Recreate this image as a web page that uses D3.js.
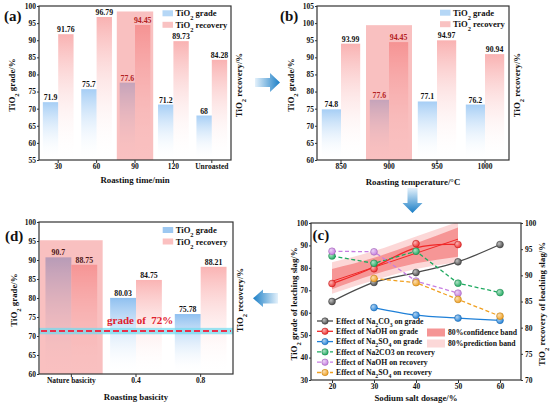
<!DOCTYPE html>
<meta charset="utf-8">
<style>
body { margin: 0; background: #fff; }
svg { font-family: "Liberation Serif", "Times New Roman", serif; font-weight: bold; }
.frame { fill: none; stroke: #333; stroke-width: 1.2px; }
.axis text { font-size: 7.5px; fill: #111; font-family: "Liberation Serif", serif; font-weight: bold; }
.axis line { stroke: #333; }
.title { font-size: 8.8px; fill: #111; }
.tag { font-size: 15px; fill: #111; }
.lab { font-size: 7.8px; text-anchor: middle; }
.legend text { font-size: 8.6px; fill: #111; }
.legc text { font-size: 7.7px; fill: #111; }
</style>
<body>
<script src="https://d3js.org/d3.v7.min.js"></script>
<script>

// (a) roasting time
var timeCats = ["30", "60", "90", "120", "Unroasted"],
    timeGrade = [71.9, 75.7, 77.6, 71.2, 68],
    timeRecovery = [91.76, 96.79, 94.45, 89.73, 84.28];

// (b) roasting temperature
var tempCats = ["850", "900", "950", "1000"],
    tempGrade = [74.8, 77.6, 77.1, 76.2],
    tempRecovery = [93.99, 94.45, 94.97, 90.94];

// (d) roasting basicity
var basCats = ["Nature basicity", "0.4", "0.8"],
    basGrade = [90.7, 80.03, 75.78],
    basRecovery = [88.75, 84.75, 88.21],
    gradeLine = 71.3;

// (c) sodium salt dosage
var dosage = [20, 30, 40, 50, 60],
    na2co3Grade = [65.0, 73.5, 77.9, 82.7, 90.4],
    naohGrade = [73.0, 79.6, 90.8, 90.4],
    na2so4Grade = [62.3, 58.9, 57.6, 56.6],
    na2co3Rec = [93.7, 92.3, 94.6, 88.5, 86.7],
    naohRec = [94.6, 94.5, 88.9, 86.6],
    na2so4Rec = [89.4, 88.6, 85.4, 82.2];

// NaOH grade fit and 80% bands
var bandDose = [20, 30, 40, 50],
    predHi = [82.5, 87.5, 94, 100.5],
    predLo = [68.5, 74.5, 79.5, 82.5],
    confHi = [79.5, 84.5, 91, 98],
    confLo = [70.5, 77, 82, 85],
    fitDose = [20, 50],
    fitNaoh = [74, 92.8];

var svg = d3.select("body").append("svg")
    .attr("width", 550)
    .attr("height", 408);

var defs = svg.append("defs");

function vGrad(id, color) {
  var g = defs.append("linearGradient").attr("id", id)
      .attr("x1", 0).attr("y1", 0).attr("x2", 0).attr("y2", 1);
  g.append("stop").attr("offset", "0%").attr("stop-color", color);
  g.append("stop").attr("offset", "100%").attr("stop-color", "#fff").attr("stop-opacity", 0);
}
vGrad("blue", "#a6cef5");
vGrad("pink", "#f9b2b2");
vGrad("blue2", "#8fc0f0");
vGrad("pink2", "#fab4b4");

function ball(id, c) {
  var g = defs.append("radialGradient").attr("id", id)
      .attr("cx", "35%").attr("cy", "35%").attr("r", "70%");
  g.append("stop").attr("offset", "0%").attr("stop-color", d3.interpolateRgb(c, "#fff")(0.65));
  g.append("stop").attr("offset", "100%").attr("stop-color", c);
}

// text with _x subscripts
function rich(sel, str) {
  str.split(/(_.)/).forEach(function(p) {
    if (!p) return;
    if (p[0] === "_") sel.append("tspan").attr("baseline-shift", "sub").attr("font-size", "75%").text(p[1]);
    else sel.append("tspan").text(p);
  });
  return sel;
}

function vTitle(x, y, str) {
  rich(svg.append("text").attr("class", "title")
      .attr("text-anchor", "middle")
      .attr("transform", "translate(" + x + "," + y + ")rotate(-90)"), str);
}

function barPanel(o) {
  var l = o.box[0], t = o.box[1], r = o.box[2], b = o.box[3];
  var g = svg.append("g");
  var x = d3.scaleBand().domain(o.cats).range([l, r]);
  var y = d3.scaleLinear().domain(o.yDomain).range([b, t]);
  var bw = x.bandwidth() * 0.4;
  var cx = function(i) { return x(o.cats[i]) + x.bandwidth() / 2; };

  g.selectAll(".gb").data(o.grade).join("rect")
      .attr("x", function(d, i) { return cx(i) - bw; })
      .attr("y", y).attr("width", bw)
      .attr("height", function(d) { return b - y(d); })
      .attr("fill", "url(#" + o.fills[0] + ")");
  g.selectAll(".rb").data(o.recovery).join("rect")
      .attr("x", function(d, i) { return cx(i); })
      .attr("y", y).attr("width", bw)
      .attr("height", function(d) { return b - y(d); })
      .attr("fill", "url(#" + o.fills[1] + ")");

  // highlighted condition
  g.append("rect")
      .attr("x", x(o.cats[o.hi]) + 1)
      .attr("width", x.bandwidth() - 2)
      .attr("y", y(o.hiTop))
      .attr("height", b - y(o.hiTop))
      .attr("fill", "#f06a6a").attr("fill-opacity", 0.42);

  if (o.extra) o.extra(g, x, y);

  [o.grade, o.recovery].forEach(function(vals, k) {
    g.selectAll(null).data(vals).join("text")
        .attr("class", "lab")
        .attr("x", function(d, i) { return cx(i) + (k ? bw / 2 : -bw / 2); })
        .attr("y", function(d) { return y(d) - 2; })
        .attr("fill", function(d, i) { return i === o.hi ? o.hiColor : "#111"; })
        .text(function(d) { return d; });
  });

  g.append("g").attr("class", "axis")
      .attr("transform", "translate(" + l + ",0)")
      .call(d3.axisLeft(y).tickValues(d3.range(o.yDomain[0], o.yDomain[1] + 0.1, 5)).tickSize(2).tickPadding(1))
      .call(function(a) { a.select(".domain").remove(); });
  g.append("g").attr("class", "axis")
      .attr("transform", "translate(0," + b + ")")
      .call(d3.axisBottom(x).tickSize(3).tickPadding(1))
      .call(function(a) { a.select(".domain").remove(); });

  g.append("rect").attr("class", "frame")
      .attr("x", l).attr("y", t).attr("width", r - l).attr("height", b - t);

  var lg = g.append("g").attr("class", "legend");
  ["TiO_2 grade", "TiO_2 recovery"].forEach(function(s, k) {
    var yy = o.legend[1] + k * 11.5;
    lg.append("rect").attr("x", o.legend[0]).attr("y", yy - 3).attr("width", 10.5).attr("height", 6)
        .attr("fill", o.swatch[k]);
    rich(lg.append("text").attr("x", o.legend[0] + 13).attr("y", yy + 3), s);
  });

  svg.append("text").attr("class", "title").attr("text-anchor", "middle")
      .attr("x", (l + r) / 2).attr("y", o.xTitleY).text(o.xTitle);
  vTitle(o.yTitleX[0], (t + b) / 2 + 2, "TiO_2 grade/%");
  vTitle(o.yTitleX[1], (t + b) / 2 + 2, "TiO_2 recovery/%");
  svg.append("text").attr("class", "tag").attr("x", o.tag[0]).attr("y", o.tag[1]).text(o.tag[2]);
}

barPanel({
  cats: timeCats, grade: timeGrade, recovery: timeRecovery,
  box: [39, 6, 231, 160], yDomain: [55, 100],
  hi: 2, hiTop: 98.4, hiColor: "#b32020",
  fills: ["blue", "pink"], swatch: ["#b5d7f6", "#f9c2c2"],
  legend: [162.5, 13.3],
  xTitle: "Roasting time/min", xTitleY: 183, yTitleX: [15, 242],
  tag: [4, 21, "(a)"]
});

barPanel({
  cats: tempCats, grade: tempGrade, recovery: tempRecovery,
  box: [317, 6, 509, 160], yDomain: [60, 105],
  hi: 1, hiTop: 99.4, hiColor: "#b32020",
  fills: ["blue", "pink"], swatch: ["#b5d7f6", "#f9c2c2"],
  legend: [440, 12.7],
  xTitle: "Roasting temperature/\u00b0C", xTitleY: 185, yTitleX: [294, 520],
  tag: [280, 21, "(b)"]
});

barPanel({
  cats: basCats, grade: basGrade, recovery: basRecovery,
  box: [39, 222, 233, 374], yDomain: [60, 100],
  hi: 0, hiTop: 95.2, hiColor: "#4a1414",
  fills: ["blue2", "pink2"], swatch: ["#9dc8f1", "#fbc0c0"],
  legend: [162.7, 230],
  xTitle: "Roasting basicity", xTitleY: 400, yTitleX: [17, 243],
  tag: [5, 241, "(d)"],
  extra: function(g, x, y) {
    var x0 = x.range()[0], x1 = x.range()[1], yl = y(gradeLine);
    g.append("rect").attr("x", x0).attr("width", x1 - x0)
        .attr("y", yl - 3.2).attr("height", 6.4)
        .attr("fill", "#6fdcf0").attr("fill-opacity", 0.7);
    g.append("line").attr("x1", x0 + 2).attr("x2", x1 - 2).attr("y1", yl).attr("y2", yl)
        .attr("stroke", "#e8304a").attr("stroke-width", 2).attr("stroke-dasharray", "6,3");
    g.append("text").attr("x", 107).attr("y", yl - 7)
        .attr("fill", "#e0202c").attr("font-size", "11px")
        .attr("xml:space", "preserve")
        .text("grade of  72%");
  }
});

// (c) line chart
var cL = 311, cT = 223, cR = 521, cB = 380;
var xc = d3.scaleLinear().domain([15, 65]).range([cL, cR]),
    yL = d3.scaleLinear().domain([30, 100]).range([cB, cT]),
    yR = d3.scaleLinear().domain([70, 100]).range([cB, cT]);

defs.append("clipPath").attr("id", "clipc")
  .append("rect").attr("x", cL).attr("y", cT).attr("width", cR - cL).attr("height", cB - cT);

var gc = svg.append("g");
var plot = gc.append("g").attr("clip-path", "url(#clipc)");

var band = function(hi, lo) {
  return d3.area().x(function(d, i) { return xc(bandDose[i]); })
      .y0(function(d, i) { return yL(lo[i]); })
      .y1(function(d, i) { return yL(hi[i]); })
      .curve(d3.curveMonotoneX)(bandDose);
};
plot.append("path").attr("d", band(predHi, predLo)).attr("fill", "#f9b0b0").attr("fill-opacity", 0.5);
plot.append("path").attr("d", band(confHi, confLo)).attr("fill", "#f06060").attr("fill-opacity", 0.55);
plot.append("path")
    .attr("d", d3.line().x(function(d, i) { return xc(fitDose[i]); }).y(function(d) { return yL(d); })(fitNaoh))
    .attr("stroke", "#f02828").attr("stroke-width", 1).attr("fill", "none");

var series = [
  {name: "Effect of Na_2CO_3 on grade", xs: dosage, ys: na2co3Grade, y: yL, color: "#4a4a4a", dash: null, curve: d3.curveCatmullRom},
  {name: "Effect of NaOH on grade", xs: dosage.slice(0, 4), ys: naohGrade, y: yL, color: "#f02828", dash: null, curve: d3.curveBasis},
  {name: "Effect of Na_2SO_4 on grade", xs: dosage.slice(1), ys: na2so4Grade, y: yL, color: "#1f80d8", dash: null, curve: d3.curveCatmullRom},
  {name: "Effect of Na2CO3 on recovery", xs: dosage, ys: na2co3Rec, y: yR, color: "#1faa60", dash: "4,2.5", curve: d3.curveLinear},
  {name: "Effect of NaOH on recovery", xs: dosage.slice(0, 4), ys: naohRec, y: yR, color: "#c77ee2", dash: "4,2.5", curve: d3.curveLinear},
  {name: "Effect of Na_2SO_4 on recovery", xs: dosage.slice(1), ys: na2so4Rec, y: yR, color: "#f0a020", dash: "4,2.5", curve: d3.curveLinear}
];

series.forEach(function(s, k) {
  ball("ball" + k, s.color);
  plot.append("path")
      .attr("d", d3.line().x(function(d, i) { return xc(s.xs[i]); }).y(function(d) { return s.y(d); }).curve(s.curve)(s.ys))
      .attr("fill", "none").attr("stroke", s.color).attr("stroke-width", 1.3)
      .attr("stroke-dasharray", s.dash);
});
series.forEach(function(s, k) {
  gc.selectAll(null).data(s.ys).join("circle")
      .attr("cx", function(d, i) { return xc(s.xs[i]); })
      .attr("cy", function(d) { return s.y(d); })
      .attr("r", 3.4)
      .attr("fill", "url(#ball" + k + ")")
      .attr("stroke", d3.color(s.color).darker(0.6)).attr("stroke-width", 0.6);
});

gc.append("g").attr("class", "axis").attr("transform", "translate(" + cL + ",0)")
    .call(d3.axisLeft(yL).tickValues(d3.range(30, 101, 10)).tickSize(2).tickPadding(1))
    .call(function(a) { a.select(".domain").remove(); });
gc.append("g").attr("class", "axis").attr("transform", "translate(" + cR + ",0)")
    .call(d3.axisRight(yR).tickValues(d3.range(70, 101, 5)).tickSize(2).tickPadding(2))
    .call(function(a) { a.select(".domain").remove(); });
gc.append("g").attr("class", "axis").attr("transform", "translate(0," + cB + ")")
    .call(d3.axisBottom(xc).tickValues(dosage).tickSize(3).tickPadding(1))
    .call(function(a) { a.select(".domain").remove(); });
gc.append("rect").attr("class", "frame")
    .attr("x", cL).attr("y", cT).attr("width", cR - cL).attr("height", cB - cT);

var lc = gc.append("g").attr("class", "legc");
series.forEach(function(s, k) {
  var yy = 321 + k * 10.3;
  lc.append("line").attr("x1", 317).attr("x2", 333).attr("y1", yy).attr("y2", yy)
      .attr("stroke", s.color).attr("stroke-width", 1.3).attr("stroke-dasharray", s.dash);
  lc.append("circle").attr("cx", 325).attr("cy", yy).attr("r", 3.2)
      .attr("fill", "url(#ball" + k + ")")
      .attr("stroke", d3.color(s.color).darker(0.6)).attr("stroke-width", 0.6);
  rich(lc.append("text").attr("x", 336).attr("y", yy + 2.7), s.name);
});
[["80%confidence band", "#f59595"], ["80%prediction band", "#fcd8d8"]].forEach(function(e, k) {
  var yy = 328.5 + k * 11;
  lc.append("rect").attr("x", 427).attr("y", yy).attr("width", 18).attr("height", 8).attr("fill", e[1]);
  lc.append("text").attr("x", 448).attr("y", yy + 6.6).text(e[0]);
});

svg.append("text").attr("class", "title").attr("text-anchor", "middle")
    .attr("x", (cL + cR) / 2).attr("y", 401).text("Sodium salt dosage/%");
vTitle(297, 304, "TiO_2 grade of leaching slag/%");
vTitle(545, 304, "TiO_2 recovery of leaching slag/%");
svg.append("text").attr("class", "tag").attr("x", 312.5).attr("y", 240).text("(c)");

// flow arrows
function arrow(pts, id, x1, y1, x2, y2) {
  var gr = defs.append("linearGradient").attr("id", id).attr("gradientUnits", "userSpaceOnUse")
      .attr("x1", x1).attr("y1", y1).attr("x2", x2).attr("y2", y2);
  gr.append("stop").attr("offset", "0%").attr("stop-color", "#e4f1fb");
  gr.append("stop").attr("offset", "100%").attr("stop-color", "#1a7ec6");
  svg.append("path").attr("d", "M" + pts.join("L") + "Z").attr("fill", "url(#" + id + ")");
}
arrow([[255, 78], [270, 78], [270, 73], [280, 82.5], [270, 92], [270, 87], [255, 87]], "arR", 255, 0, 280, 0);
arrow([[407.5, 188], [417.5, 188], [417.5, 203], [422.5, 203], [412.5, 213], [402.5, 203], [407.5, 203]], "arD", 0, 188, 0, 213);
arrow([[278, 293], [263, 293], [263, 289.5], [253, 298.3], [263, 307], [263, 303.5], [278, 303.5]], "arL", 278, 0, 253, 0);

</script>
